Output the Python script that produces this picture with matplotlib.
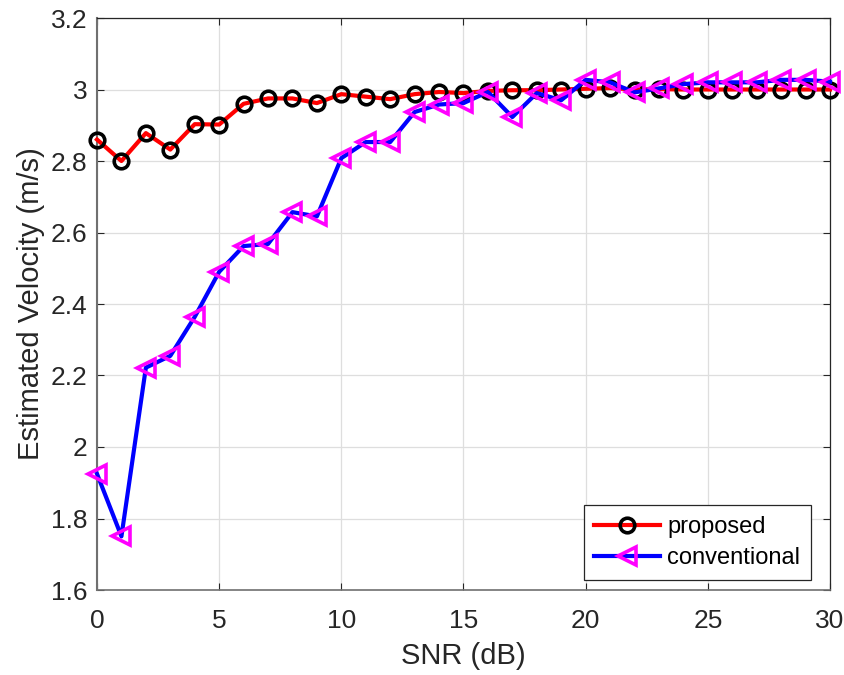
import matplotlib
matplotlib.use("Agg")
import matplotlib.pyplot as plt
import numpy as np

plt.rcParams['font.family'] = ['Liberation Sans', 'DejaVu Sans']

snr = list(range(0, 31))
proposed = [2.860, 2.800, 2.878, 2.832, 2.903, 2.902, 2.960, 2.975, 2.975, 2.962,
            2.987, 2.980, 2.973, 2.987, 2.993, 2.990, 2.996, 2.998, 2.998, 3.000,
            3.002, 3.004, 3.000, 3.001, 3.000, 3.000, 3.000, 3.000, 3.000, 3.000, 3.000]
conventional = [1.925, 1.750, 2.222, 2.255, 2.364, 2.490, 2.562, 2.568, 2.657, 2.645,
                2.808, 2.853, 2.853, 2.937, 2.958, 2.962, 2.993, 2.923, 2.990, 2.970,
                3.027, 3.020, 2.992, 3.003, 3.015, 3.020, 3.020, 3.020, 3.027, 3.027, 3.022]
labels = ['proposed', 'conventional']
xticks = [0, 5, 10, 15, 20, 25, 30]
yticks = [1.6, 1.8, 2.0, 2.2, 2.4, 2.6, 2.8, 3.0, 3.2]
yticklabels = ['1.6', '1.8', '2', '2.2', '2.4', '2.6', '2.8', '3', '3.2']

W, H = 845, 675
fig = plt.figure(figsize=(W/100, H/100), dpi=100)
ax = fig.add_axes([97/W, 1-590/H, (830-97)/W, (590-18)/H])

ax.plot(snr, proposed, color='red', lw=3, marker='o', ms=10.5, mfc='none',
        mec='black', mew=2.6, label=labels[0], clip_on=False, zorder=3)
ax.plot(snr, conventional, color='blue', lw=3, marker='<', ms=12.5, mfc='none',
        mec='magenta', mew=2.6, label=labels[1], clip_on=False, zorder=4)

ax.set_xlim(0, 30)
ax.set_ylim(1.6, 3.2)
ax.set_xticks(xticks)
ax.set_yticks(yticks)
ax.set_yticklabels(yticklabels)
ax.grid(True, color='#dedede', lw=0.9)
ax.set_axisbelow(True)
ax.tick_params(direction='in', length=5, labelsize=19, top=True, right=True,
               color='#262626', labelcolor='#262626')
ax.tick_params(axis='y', pad=7)
ax.tick_params(axis='x', pad=14)
for s in ax.spines.values():
    s.set_color('#262626')
    s.set_linewidth(0.9)
ax.spines['left'].set_color('#707070')
ax.spines['left'].set_linewidth(1.5)
ax.spines['bottom'].set_color('#707070')
ax.spines['bottom'].set_linewidth(1.2)
ax.set_xlabel('SNR (dB)', fontsize=21, color='#262626', labelpad=6)
ax.set_ylabel('Estimated Velocity (m/s)', fontsize=21, color='#262626', labelpad=4)

leg = ax.legend(loc='lower right', bbox_to_anchor=((811-97)/(830-97), (590-580)/(590-18)),
                borderaxespad=0, fontsize=17, fancybox=False, framealpha=1,
                edgecolor='#262626', handlelength=2.8,
                handletextpad=0.3, borderpad=0.45, labelspacing=0.4)
leg.get_frame().set_linewidth(0.9)

fig.savefig('out.png', dpi=100)
